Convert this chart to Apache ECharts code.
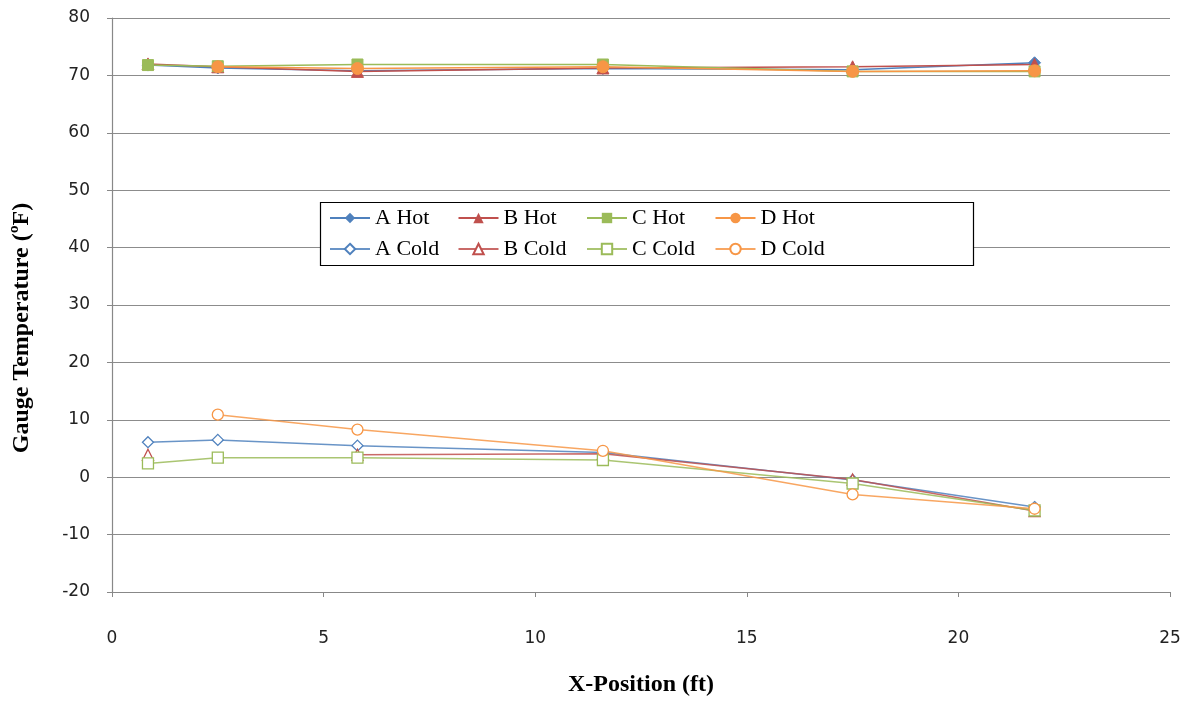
<!DOCTYPE html>
<html>
<head>
<meta charset="utf-8">
<script src="https://cdn.jsdelivr.net/npm/echarts@6/dist/echarts.min.js"></script>
<style>html,body{margin:0;padding:0;background:#fff}#c{width:1188px;height:702px}</style>
</head>
<body>
<div id="c"></div>
<script>
const xPos = [0.85, 2.5, 5.8, 11.6, 17.5, 21.8];
const aHot  = [71.8, 71.3, 70.8, 71.2, 71.0, 72.2];
const bHot  = [72.0, 71.5, 70.7, 71.3, 71.5, 71.9];
const cHot  = [71.8, 71.6, 71.9, 71.9, 70.7, 70.7];
const dHot  = [null, 71.5, 71.2, 71.5, 70.7, 70.8];
const aCold = [6.1, 6.5, 5.5, 4.3, -0.5, -5.2];
const bCold = [3.9, null, 3.9, 4.1, -0.4, -5.9];
const cCold = [2.4, 3.4, 3.4, 3.0, -1.1, -5.8];
const dCold = [null, 10.9, 8.3, 4.6, -3.0, -5.5];
const yTicks = [-20, 80, 10];
const xTicks = [0, 25, 5];
const yTitle = 'Gauge Temperature (ºF)';
const xTitle = 'X-Position (ft)';

const blue = '#4F81BD', red = '#C0504D', green = '#9BBB59', orange = '#F79646';
function pts(ys){ return xPos.map((x,i)=>[x, ys[i]]); }
function hot(name, ys, color, symbol, size){
  return {name, type:'line', data:pts(ys), symbol, symbolSize:size, connectNulls:false,
    lineStyle:{color, width:1.5}, itemStyle:{color, borderColor:color}, z:3};
}
function cold(name, ys, color, symbol, size){
  return {name, type:'line', data:pts(ys), symbol, symbolSize:size, connectNulls:false,
    lineStyle:{color, width:1.5, opacity:0.85}, itemStyle:{color:'#fff', borderColor:color, borderWidth:1.3}, z:2};
}
const series = [
  hot('A Hot', aHot, blue, 'diamond', 12),
  hot('B Hot', bHot, red, 'triangle', 12),
  hot('C Hot', cHot, green, 'rect', 11),
  hot('D Hot', dHot, orange, 'circle', 12),
  cold('A Cold', aCold, blue, 'diamond', 11),
  cold('B Cold', bCold, red, 'triangle', 11),
  cold('C Cold', cCold, green, 'rect', 11),
  cold('D Cold', dCold, orange, 'circle', 11)
];
const legendFont = {fontFamily:'Liberation Serif', fontSize:22, color:'#000'};
const cols = [['A Hot','A Cold'],['B Hot','B Cold'],['C Hot','C Cold'],['D Hot','D Cold']];
const legends = cols.map((names,i)=>({
  data:names, orient:'vertical', left:329 + i*128.5, top:207, itemGap:9,
  itemWidth:40, itemHeight:13, textStyle:legendFont, padding:0, z:20
}));

const chart = echarts.init(document.getElementById('c'), null, {renderer:'canvas'});
chart.setOption({
  animation:false,
  backgroundColor:'#fff',
  grid:{left:112, right:18, top:18, bottom:106, containLabel:false},
  legend: legends,
  graphic:[
    {type:'rect', shape:{x:320.5, y:202.5, width:653, height:63},
      style:{fill:'#fff', stroke:'#000', lineWidth:1.2}, z:5, silent:true},
    {type:'text', x:22, y:328, rotation:Math.PI/2, z:10,
      style:{text:yTitle, fontFamily:'Liberation Serif', fontSize:24, fontWeight:'bold', fill:'#000',
        align:'center', verticalAlign:'middle'}}
  ],
  xAxis:{type:'value', min:xTicks[0], max:xTicks[1], interval:xTicks[2],
    name:xTitle, nameLocation:'middle', nameGap:81,
    nameTextStyle:{fontFamily:'Liberation Serif', fontSize:24, fontWeight:'bold', color:'#000'},
    axisLine:{onZero:false, lineStyle:{color:'#888', width:1.2}},
    axisTick:{show:true, length:5, lineStyle:{color:'#888'}},
    axisLabel:{margin:38, fontFamily:'DejaVu Sans', fontSize:17, color:'#222'},
    splitLine:{show:false}},
  yAxis:{type:'value', min:yTicks[0], max:yTicks[1], interval:yTicks[2],
    axisLine:{show:true, lineStyle:{color:'#888', width:1.2}},
    axisTick:{show:true, length:5, lineStyle:{color:'#888'}},
    axisLabel:{margin:22, fontFamily:'DejaVu Sans', fontSize:17, color:'#222'},
    splitLine:{show:true, lineStyle:{color:'#8c8c8c', width:1.2}}},
  series
});
</script>
</body>
</html>
